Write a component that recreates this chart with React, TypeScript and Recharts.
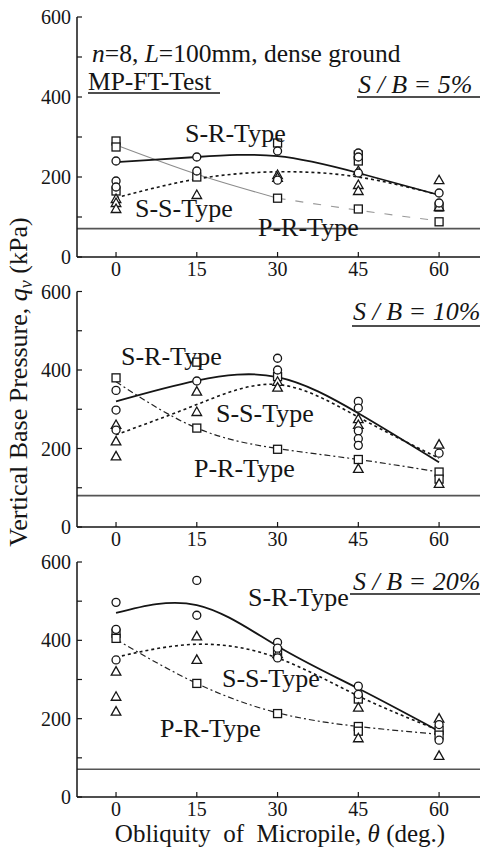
import React from 'react';
import { ComposedChart, XAxis, YAxis, Line, Scatter, ReferenceLine } from 'recharts';

// Obliquity of micropile (deg.)
const angles = [0, 15, 30, 45, 60];
const yTicks = [0, 100, 200, 300, 400, 500, 600];

// Unreinforced ground base pressure (horizontal line), kPa, per panel
const unreinforced = [71, 80, 71];

// ---- S/B = 5% ----
const sr5Points = [[240, 190, 175], [250, 215], [265, 192], [260, 250, 210], [160, 135]]; // circles
const ss5Points = [[145, 135, 120], [155], [205, 198], [215, 180, 165], [192, 125]]; // triangles
const pr5Points = [[290, 275, 165], [200], [285, 147], [255, 240, 120], [125, 88]]; // squares
const sr5Curve = [237, 250, 252, 210, 155];
const ss5Curve = [148, 195, 213, 200, 155];
const pr5Curve = [280, 207, 147, 117, 90];

// ---- S/B = 10% ----
const sr10Points = [[348, 298, 247], [372], [430, 400], [320, 303, 245, 225, 208], [188]];
const ss10Points = [[260, 218, 180], [345, 293], [370, 355], [275, 260, 148], [210, 110]];
const pr10Points = [[380], [420, 252], [383, 198], [172], [140, 122]];
const sr10Curve = [320, 373, 382, 290, 165];
const ss10Curve = [235, 312, 363, 280, 175];
const pr10Curve = [370, 252, 200, 172, 140];

// ---- S/B = 20% ----
const sr20Points = [[497, 428, 350], [553, 464], [395, 380, 355], [283, 262], [185, 145]];
const ss20Points = [[320, 256, 218], [410, 350], [365], [228, 150], [200, 105]];
const pr20Points = [[418, 405], [290], [372, 213], [250, 180, 168], [170, 158]];
const sr20Curve = [470, 490, 385, 277, 168];
const ss20Curve = [357, 390, 355, 258, 170];
const pr20Curve = [402, 290, 215, 180, 160];

const FONT = "'Liberation Serif', Tinos, 'DejaVu Serif', 'Noto Serif', serif";
const INK = '#151515';
const X_DOMAIN: [number, number] = [-7.25, 67.6];

const toPoints = (vals: number[][]) =>
  angles.flatMap((a, i) => vals[i].map((v) => ({ x: a, y: v })));
const toCurve = (vals: number[], xs: number[] = angles) =>
  xs.map((a, i) => ({ x: a, y: vals[i] }));

const LeftTick = (props: any) => {
  const { x, y, payload } = props;
  const ax = x + 6;
  return (
    <g>
      <line x1={ax} x2={ax + 5} y1={y} y2={y} stroke={INK} strokeWidth={1.2} />
      {payload.value % 200 === 0 && (
        <text x={x} y={y} dy={7} textAnchor="end" fontFamily={FONT} fontSize={20} fill={INK}>
          {payload.value}
        </text>
      )}
    </g>
  );
};

const RightTick = (props: any) => {
  const { x, y } = props;
  return <line x1={x - 5} x2={x} y1={y} y2={y} stroke={INK} strokeWidth={1.2} />;
};

const BottomTick = (props: any) => {
  const { x, y, payload } = props;
  return (
    <g>
      <line x1={x} x2={x} y1={y} y2={y - 5} stroke={INK} strokeWidth={1.2} />
      <text x={x} y={y + 19} textAnchor="middle" fontFamily={FONT} fontSize={20} fill={INK}>
        {payload.value}
      </text>
    </g>
  );
};

const CircleShape = (p: any) => (
  <circle cx={p.cx} cy={p.cy} r={4} fill="#fff" stroke={INK} strokeWidth={1.3} />
);
const SquareShape = (p: any) => (
  <rect x={p.cx - 4} y={p.cy - 4} width={8} height={8} fill="#fff" stroke={INK} strokeWidth={1.3} />
);
const TriangleShape = (p: any) => (
  <polygon
    points={`${p.cx},${p.cy - 5} ${p.cx - 4.8},${p.cy + 3.5} ${p.cx + 4.8},${p.cy + 3.5}`}
    fill="#fff"
    stroke={INK}
    strokeWidth={1.3}
  />
);

type PanelProps = {
  top: number;
  marginTop: number;
  circles: number[][];
  triangles: number[][];
  squares: number[][];
  srCurve: number[];
  ssCurve: number[];
  prCurve: number[];
  base: number;
  lightPR?: boolean;
};

function Panel({ top, marginTop, circles, triangles, squares, srCurve, ssCurve, prCurve, base, lightPR }: PanelProps) {
  return (
    <div style={{ position: 'absolute', left: 0, top, width: 481, height: 285 }}>
      <ComposedChart width={481} height={285} margin={{ top: marginTop, right: 1, bottom: 0, left: 0 }}>
        <XAxis
          dataKey="x"
          type="number"
          domain={X_DOMAIN}
          ticks={angles}
          interval={0}
          height={28}
          tickSize={0}
          tickMargin={0}
          tickLine={false}
          axisLine={{ stroke: INK, strokeWidth: 1.5 }}
          tick={<BottomTick />}
        />
        <XAxis
          xAxisId="top"
          orientation="top"
          dataKey="x"
          type="number"
          domain={X_DOMAIN}
          height={0}
          tick={false}
          tickLine={false}
          axisLine={{ stroke: INK, strokeWidth: 1.5 }}
        />
        <YAxis
          dataKey="y"
          type="number"
          domain={[0, 600]}
          ticks={yTicks}
          interval={0}
          width={77}
          tickSize={0}
          tickMargin={6}
          tickLine={false}
          axisLine={{ stroke: INK, strokeWidth: 1.5 }}
          tick={<LeftTick />}
        />
        <YAxis
          yAxisId="right"
          orientation="right"
          type="number"
          domain={[0, 600]}
          ticks={yTicks}
          interval={0}
          width={0}
          tickSize={0}
          tickMargin={0}
          tickLine={false}
          axisLine={{ stroke: INK, strokeWidth: 1.5 }}
          tick={<RightTick />}
        />
        <ReferenceLine y={base} stroke="#555" strokeWidth={1.6} />
        {lightPR ? (
          <Line
            data={toCurve(prCurve.slice(0, 3), angles.slice(0, 3))}
            dataKey="y"
            type="natural"
            stroke="#8c8c8c"
            strokeWidth={1.1}
            dot={false}
            activeDot={false}
            isAnimationActive={false}
          />
        ) : null}
        {lightPR ? (
          <Line
            data={toCurve(prCurve.slice(2), angles.slice(2))}
            dataKey="y"
            type="natural"
            stroke="#9a9a9a"
            strokeWidth={1.1}
            strokeDasharray="8 10"
            dot={false}
            activeDot={false}
            isAnimationActive={false}
          />
        ) : (
          <Line
            data={toCurve(prCurve)}
            dataKey="y"
            type="natural"
            stroke="#222"
            strokeWidth={1.2}
            strokeDasharray="6 3 2 3"
            dot={false}
            activeDot={false}
            isAnimationActive={false}
          />
        )}
        <Line
          data={toCurve(ssCurve)}
          dataKey="y"
          type="natural"
          stroke={INK}
          strokeWidth={1.6}
          strokeDasharray="3 3"
          dot={false}
          activeDot={false}
          isAnimationActive={false}
        />
        <Line
          data={toCurve(srCurve)}
          dataKey="y"
          type="natural"
          stroke={INK}
          strokeWidth={1.8}
          dot={false}
          activeDot={false}
          isAnimationActive={false}
        />
        <Scatter data={toPoints(squares)} dataKey="y" shape={SquareShape} isAnimationActive={false} />
        <Scatter data={toPoints(triangles)} dataKey="y" shape={TriangleShape} isAnimationActive={false} />
        <Scatter data={toPoints(circles)} dataKey="y" shape={CircleShape} isAnimationActive={false} />
      </ComposedChart>
    </div>
  );
}

const T = ({ children, ...rest }: any) => (
  <text fontFamily={FONT} fontSize={26} fill={INK} {...rest}>
    {children}
  </text>
);

export default function App() {
  return (
    <div style={{ position: 'absolute', left: 0, top: 0, width: 481, height: 848, background: '#fff', overflow: 'hidden', fontFamily: FONT }}>
      <Panel top={0} marginTop={17} circles={sr5Points} triangles={ss5Points} squares={pr5Points}
        srCurve={sr5Curve} ssCurve={ss5Curve} prCurve={pr5Curve} base={unreinforced[0]} lightPR />
      <Panel top={270} marginTop={21.5} circles={sr10Points} triangles={ss10Points} squares={pr10Points}
        srCurve={sr10Curve} ssCurve={ss10Curve} prCurve={pr10Curve} base={unreinforced[1]} />
      <Panel top={540} marginTop={22} circles={sr20Points} triangles={ss20Points} squares={pr20Points}
        srCurve={sr20Curve} ssCurve={ss20Curve} prCurve={pr20Curve} base={unreinforced[2]} />
      <svg width={481} height={848} style={{ position: 'absolute', left: 0, top: 0, pointerEvents: 'none' }}>
        {/* Panel 1 annotations */}
        <T x={92} y={62} fontSize={25.5}>
          <tspan fontStyle="italic">n</tspan>=8, <tspan fontStyle="italic">L</tspan>=100mm, dense ground
        </T>
        <T x={88} y={90} fontSize={25.5}>MP-FT-Test</T>
        <line x1={88} x2={220} y1={93} y2={93} stroke={INK} strokeWidth={1.5} />
        <T x={358} y={93} fontStyle="italic">S / B = 5%</T>
        <line x1={357} x2={480} y1={97} y2={97} stroke={INK} strokeWidth={1.5} />
        <T x={185} y={142}>S-R-Type</T>
        <T x={135} y={217}>S-S-Type</T>
        <T x={258} y={236}>P-R-Type</T>

        {/* Panel 2 annotations */}
        <T x={353} y={320} fontStyle="italic">S / B = 10%</T>
        <line x1={352} x2={480} y1={326} y2={326} stroke={INK} strokeWidth={1.5} />
        <T x={121} y={365}>S-R-Type</T>
        <T x={216} y={422}>S-S-Type</T>
        <T x={194} y={477}>P-R-Type</T>

        {/* Panel 3 annotations */}
        <T x={353} y={590} fontStyle="italic">S / B = 20%</T>
        <line x1={350} x2={480} y1={594} y2={594} stroke={INK} strokeWidth={1.5} />
        <T x={248} y={606}>S-R-Type</T>
        <T x={222} y={687}>S-S-Type</T>
        <T x={160} y={737}>P-R-Type</T>

        {/* Axis titles */}
        <T x={280} y={842} fontSize={25} textAnchor="middle" xmlSpace="preserve">
          Obliquity  of  Micropile, <tspan fontStyle="italic">θ</tspan> (deg.)
        </T>
        <T x={27} y={382} textAnchor="middle" transform="rotate(-90, 27, 382)">
          Vertical Base Pressure, <tspan fontStyle="italic">q</tspan>
          <tspan fontStyle="italic" fontSize={18} dy={5}>v</tspan>
          <tspan dy={-5}> (kPa)</tspan>
        </T>
      </svg>
    </div>
  );
}
